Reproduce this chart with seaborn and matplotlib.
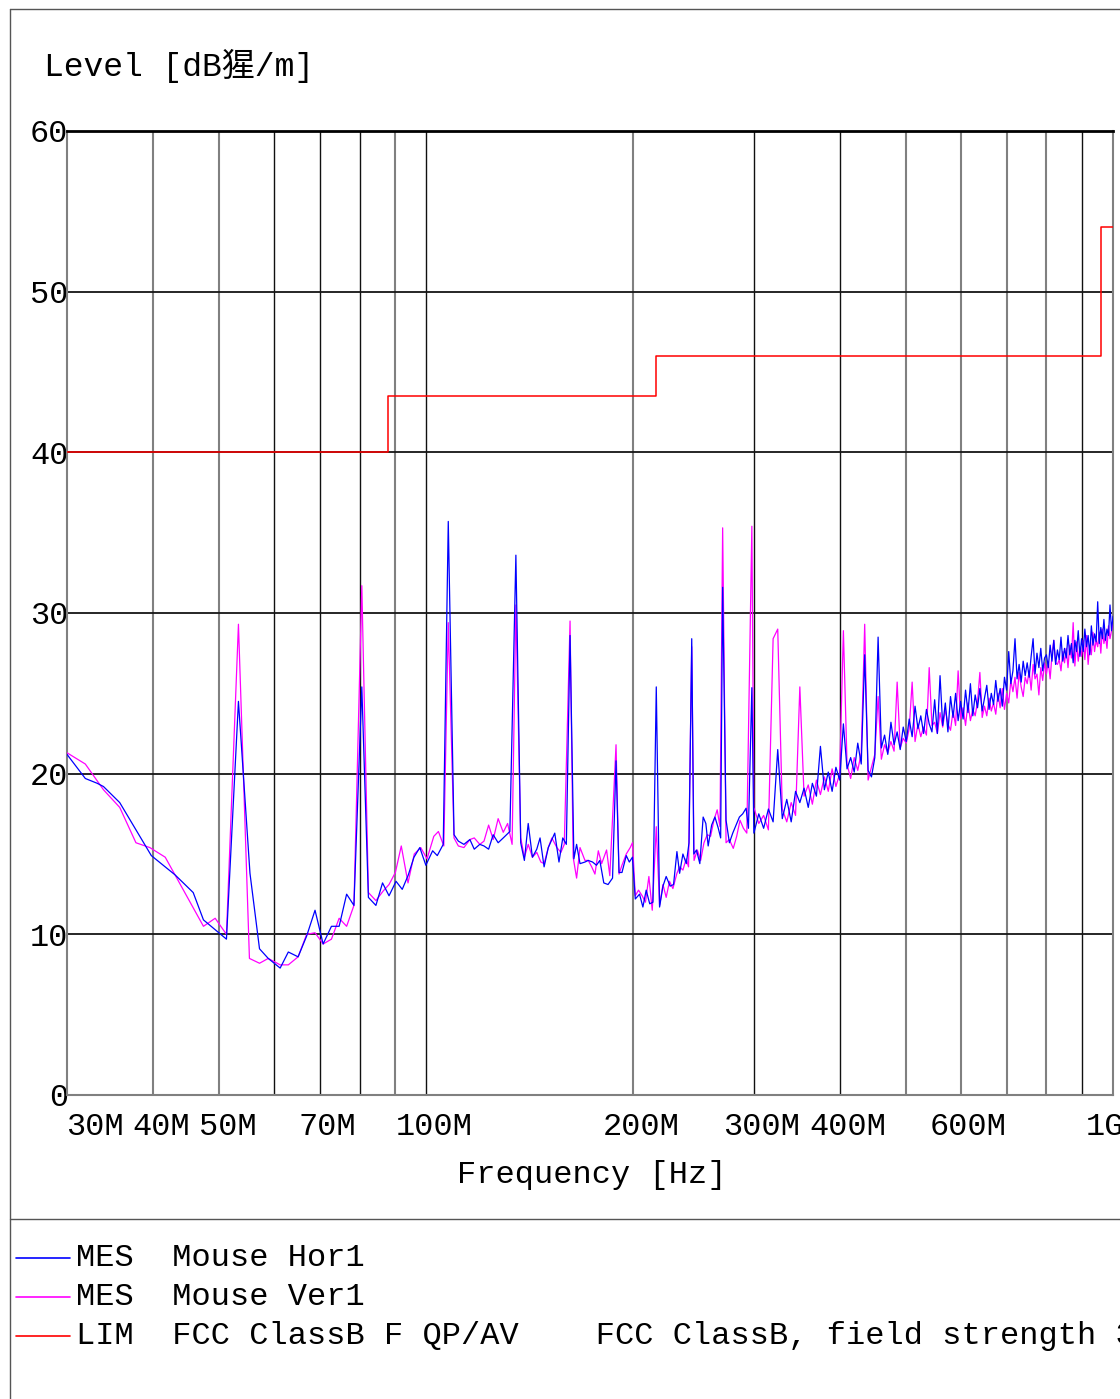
import numpy as np
import pandas as pd
import matplotlib
matplotlib.use("Agg")
import matplotlib.pyplot as plt
import matplotlib.transforms as mtrans
from matplotlib.lines import Line2D
import seaborn as sns

sns.set_theme(style="white")
plt.rcParams["font.family"] = ["Liberation Mono", "Noto Sans CJK SC", "DejaVu Sans"]

# ---------------- data ----------------
# low band (30-298 MHz): (frequency MHz, level dBuV/m)
blue_low = [
    (30.0, 21.2), (31.9, 19.7), (33.2, 19.4), (33.9, 19.2), (35.8, 18.2), (37.8, 16.5),
    (39.8, 14.9), (43.1, 13.7), (45.8, 12.6), (47.4, 10.9), (51.2, 9.7), (53.3, 24.5),
    (55.4, 13.8), (57.2, 9.1), (58.9, 8.5), (61.3, 7.9), (63.0, 8.9), (65.1, 8.6),
    (67.0, 9.9), (68.9, 11.5), (70.8, 9.4), (72.8, 10.5), (74.7, 10.5), (76.6, 12.5),
    (78.5, 11.8), (80.6, 25.4), (82.4, 12.3), (84.5, 11.8), (86.4, 13.2), (88.3, 12.4),
    (90.4, 13.3), (92.3, 12.8), (94.2, 13.7), (96.0, 14.8), (97.9, 15.4), (99.9, 14.3),
    (102.2, 15.2), (103.8, 14.9), (105.9, 15.6), (107.7, 35.7), (109.8, 16.2), (111.4, 15.8),
    (113.5, 15.6), (115.8, 15.9), (117.5, 15.3), (119.7, 15.6), (121.4, 15.5), (123.3, 15.3),
    (125.2, 16.2), (127.3, 15.7), (129.5, 16.0), (132.4, 16.4), (135.1, 33.6), (137.3, 15.7),
    (139.0, 14.6), (140.8, 16.9), (142.8, 14.8), (144.9, 15.3), (146.5, 16.0), (148.5, 14.2),
    (150.6, 15.4), (153.9, 16.3), (156.1, 14.5), (158.1, 16.0), (160.0, 15.6), (162.0, 28.6),
    (164.1, 14.7), (165.6, 15.6), (167.5, 14.4), (170.3, 14.5), (172.2, 14.6), (174.7, 14.5),
    (177.0, 14.3), (179.0, 14.6), (181.4, 13.2), (184.0, 13.1), (186.8, 13.5), (189.0, 20.8),
    (190.9, 13.85), (192.8, 13.85), (195.6, 14.9), (197.6, 14.5), (199.7, 14.8), (201.6, 12.2),
    (204.5, 12.5), (206.8, 11.7), (209.1, 12.75), (211.6, 11.9), (213.9, 12.0), (216.3, 25.4),
    (218.7, 11.7), (221.2, 13.0), (223.6, 13.6), (226.6, 13.0), (229.2, 13.1), (231.8, 15.15),
    (233.9, 13.8), (236.5, 15.0), (239.2, 14.4), (241.4, 15.7), (243.6, 28.4), (245.3, 15.0),
    (247.5, 15.25), (250.3, 14.4), (253.1, 17.3), (255.4, 16.9), (257.4, 15.5), (260.4, 16.8),
    (263.3, 17.3), (266.3, 16.6), (268.4, 16.0), (270.2, 31.6), (273.3, 17.1), (276.4, 15.7),
    (279.5, 16.3), (282.6, 16.8), (285.8, 17.3), (289.0, 17.5), (292.3, 17.85), (294.6, 16.6),
    (298.0, 25.35),
]

magenta_low = [
    (30.0, 21.3), (31.9, 20.6), (33.9, 19.0), (35.8, 17.9), (37.8, 15.7), (39.6, 15.4),
    (41.7, 14.8), (47.4, 10.5), (49.3, 11.0), (51.2, 10.0), (53.3, 29.3), (55.3, 8.5),
    (57.2, 8.2), (58.9, 8.5), (61.3, 8.1), (63.0, 8.1), (65.1, 8.6), (67.0, 10.0),
    (68.9, 10.1), (70.8, 9.4), (72.8, 9.7), (74.7, 11.0), (76.6, 10.5), (78.5, 11.8),
    (80.6, 31.7), (82.4, 12.6), (84.5, 12.1), (86.6, 12.7), (88.3, 13.1), (90.2, 13.85),
    (92.0, 15.5), (94.1, 13.2), (96.1, 15.0), (98.2, 15.4), (100.3, 14.7), (102.6, 16.1),
    (104.2, 16.4), (106.1, 15.5), (107.7, 29.4), (109.8, 16.0), (111.4, 15.5), (113.5, 15.4),
    (115.8, 15.9), (117.5, 16.0), (119.7, 15.6), (121.4, 15.8), (123.3, 16.8), (125.2, 15.9),
    (127.3, 17.2), (129.5, 16.35), (131.4, 16.9), (133.4, 15.6), (135.1, 30.5), (137.3, 16.0),
    (139.0, 14.8), (140.8, 15.6), (142.8, 14.8), (144.9, 15.1), (146.9, 14.5), (148.5, 14.4),
    (150.6, 15.4), (152.4, 16.0), (155.0, 15.4), (157.1, 15.1), (158.9, 15.6), (162.0, 29.5),
    (163.7, 14.8), (165.6, 13.5), (167.5, 15.4), (170.3, 14.6), (172.2, 14.6), (174.2, 14.2),
    (176.1, 13.75), (178.1, 15.2), (180.1, 14.4), (183.1, 15.25), (185.1, 13.65), (189.0, 21.8),
    (190.9, 13.75), (192.8, 14.3), (195.6, 15.0), (198.2, 15.4), (199.7, 15.7), (201.6, 12.4),
    (203.8, 12.75), (206.3, 12.4), (208.6, 12.0), (211.0, 13.6), (213.4, 11.5), (216.3, 16.7),
    (218.7, 11.8), (221.2, 13.1), (223.6, 12.3), (226.1, 13.3), (228.7, 12.85), (231.8, 13.8),
    (233.9, 14.2), (236.5, 14.0), (239.1, 14.7), (241.0, 14.2), (243.6, 27.9), (245.5, 14.6),
    (248.2, 15.25), (251.0, 14.6), (253.8, 15.7), (256.6, 16.2), (259.5, 16.1), (262.4, 17.1),
    (265.3, 17.75), (267.8, 16.7), (270.2, 35.3), (273.3, 15.7), (276.3, 15.9), (280.0, 15.35),
    (283.2, 16.1), (286.4, 17.1), (289.7, 16.6), (293.0, 16.3), (298.0, 35.4),
]

# high band sweep: 300 .. 1000 MHz, 5 MHz step
hf_freq = np.arange(300, 1001, 5)
blue_hf = [
    16.3, 17.5, 16.6, 17.8, 17.0, 21.5, 17.2, 18.4, 17.0, 18.9,
    18.2, 19.1, 17.9, 19.4, 18.6, 21.7, 19.0, 20.1, 18.9, 20.4,
    19.6, 23.1, 20.3, 21.0, 20.1, 21.9, 20.6, 27.4, 20.2, 19.8,
    21.0, 28.5, 21.6, 22.4, 21.2, 23.2, 21.8, 22.6, 21.5, 22.9,
    22.0, 23.4, 22.3, 24.2, 22.8, 23.6, 22.5, 24.0, 23.1, 22.6,
    24.6, 22.5, 26.1, 23.0, 24.4, 22.6, 24.8, 23.5, 25.0, 23.3,
    24.5, 23.4, 25.2, 23.8, 25.6, 23.6, 24.9, 24.1, 25.3, 23.9,
    24.7, 25.5, 24.0, 25.0, 24.3, 25.8, 24.5, 25.3, 24.2, 26.0,
    25.2, 27.6, 25.6, 26.4, 28.4, 25.9, 26.8, 25.7, 27.0, 26.1,
    26.9, 26.0, 27.3, 28.4, 26.2, 27.5, 26.6, 27.8, 26.4, 27.2,
    27.4, 26.6, 28.0, 27.0, 28.3, 26.8, 27.7, 27.1, 28.5, 27.0,
    27.8, 27.2, 28.6, 27.4, 28.1, 26.9, 28.3, 27.6, 28.9, 27.3,
    28.4, 27.6, 29.0, 27.9, 28.6, 27.4, 29.2, 28.0, 28.7, 28.2,
    30.7, 28.1, 29.1, 28.4, 29.6, 28.3, 29.0, 28.6, 30.5, 28.9,
    29.8,
]
magenta_hf = [
    17.9, 16.9, 17.4, 16.5, 28.4, 29.0, 17.8, 17.0, 18.2, 17.4,
    25.4, 18.6, 19.3, 18.1, 19.6, 18.7, 19.8, 18.9, 20.3, 19.2,
    20.0, 28.9, 20.6, 19.7, 21.0, 20.2, 21.3, 29.3, 19.6, 20.4,
    21.2, 24.8, 20.9, 21.8, 21.3, 22.0, 21.4, 25.7, 21.6, 22.2,
    21.9, 22.8, 25.7, 22.0, 23.1, 22.3, 22.9, 22.4, 26.6, 23.0,
    23.2, 22.5, 23.8, 22.9, 24.0, 23.1, 22.7, 23.9, 23.0, 26.4,
    23.4, 24.1, 23.0, 24.4, 23.3, 24.0, 23.6, 24.5, 26.3, 23.5,
    24.2, 23.6, 24.7, 23.9, 24.4, 23.7, 25.0, 24.1, 25.3, 24.0,
    25.0, 24.4, 25.8, 25.1, 26.0, 24.7, 26.3, 25.4, 24.8, 26.0,
    25.6, 26.4, 25.2, 26.8, 25.9, 26.2, 24.9, 26.6, 25.8, 26.9,
    26.2, 27.0, 25.9, 27.4, 28.3, 26.9, 26.8, 27.1, 26.4, 27.6,
    26.9, 27.8, 26.6, 28.0, 27.2, 29.4, 26.7, 28.2, 27.0, 27.9,
    27.3, 28.3, 27.1, 28.6, 26.8, 28.0, 27.4, 28.8, 27.6, 28.3,
    27.9, 28.8, 27.5, 29.0, 28.1, 28.6, 27.8, 29.2, 28.4, 28.9,
    29.3,
]

# FCC Class B limit (QP), 3 m
limit_freq = [30, 88, 88, 216, 216, 960, 960, 1000]
limit_level = [40, 40, 43.5, 43.5, 46, 46, 54, 54]

ytick_values = [0, 10, 20, 30, 40, 50, 60]
xtick_freqs = [30, 40, 50, 70, 100, 200, 300, 400, 600, 1000]
xtick_labels = ["30M", "40M", "50M", "70M", "100M", "200M", "300M", "400M", "600M", "1G"]
grid_freqs = [40, 50, 60, 70, 80, 90, 100, 200, 300, 400, 500, 600, 700, 800, 900]
legend_entries = [
    ("MES  Mouse Hor1", "#0000ff"),
    ("MES  Mouse Ver1", "#ff00ff"),
    ("LIM  FCC ClassB F QP/AV    FCC ClassB, field strength 3m", "#ff0000"),
]


def series_frame(low, hf_vals):
    f = [p[0] for p in low] + list(hf_freq)
    v = [p[1] for p in low] + list(hf_vals)
    return pd.DataFrame({"freq": f, "level": v})


df_blue = series_frame(blue_low, blue_hf)
df_mag = series_frame(magenta_low, magenta_hf)
df_lim = pd.DataFrame({"freq": limit_freq, "level": limit_level})

# ---------------- figure ----------------
W, H = 1120, 1399
fig = plt.figure(figsize=(W / 100, H / 100), dpi=100)
fig.patch.set_facecolor("white")
L, R, T, B = 67, 1113, 131, 1095
ax = fig.add_axes([L / W, 1 - B / H, (R - L) / W, (B - T) / H])
ax.set_facecolor("white")
ax.set_xscale("log")
ax.set_xlim(30, 1000)
ax.set_ylim(0, 60)

FS = 23

# grid
gray_set = {40, 50, 90, 200, 500, 600, 700, 800}
for f in grid_freqs:
    if f in gray_set:
        ax.axvline(f, color="#808080", lw=1.5, zorder=1)
    else:
        ax.axvline(f, color="#101010", lw=1.0, zorder=1)
for y in ytick_values[1:-1]:
    ax.axhline(y, color="#151515", lw=1.3, zorder=1)

# data
sns.lineplot(data=df_mag, x="freq", y="level", color="#ff00ff", lw=0.9,
             sort=False, estimator=None, ax=ax, legend=False, zorder=3)
sns.lineplot(data=df_blue, x="freq", y="level", color="#0000ff", lw=0.9,
             sort=False, estimator=None, ax=ax, legend=False, zorder=4)
sns.lineplot(data=df_lim, x="freq", y="level", color="#ff0000", lw=1.1,
             sort=False, estimator=None, ax=ax, legend=False, zorder=5)

ax.set_xlabel("")
ax.set_ylabel("")

# spines
for s in ["left", "bottom", "right"]:
    ax.spines[s].set_visible(True)
    ax.spines[s].set_color("#808080")
    ax.spines[s].set_linewidth(1.5)
ax.spines["top"].set_visible(True)
ax.spines["top"].set_color("black")
ax.spines["top"].set_linewidth(2.0)

# ticks
ax.xaxis.set_major_locator(matplotlib.ticker.NullLocator())
ax.xaxis.set_minor_locator(matplotlib.ticker.NullLocator())
ax.set_yticks(ytick_values)
ax.set_yticklabels([str(v) for v in ytick_values])
ax.tick_params(axis="y", length=0, pad=-1, labelsize=FS, labelcolor="black")

base = mtrans.blended_transform_factory(ax.transData, ax.transAxes)
y_lab = -(1127 - B) / (B - T)
for f, lab in zip(xtick_freqs, xtick_labels):
    if lab == "30M":
        ha, dx = "left", -1
    elif lab == "1G":
        ha, dx = "center", -8
    else:
        ha, dx = "center", 8
    tr = base + mtrans.ScaledTranslation(dx / 100, 0, fig.dpi_scale_trans)
    ax.text(f, y_lab, lab, transform=tr, ha=ha, va="center", fontsize=FS,
            color="black", clip_on=False)


def fx(x):
    return x / W


def fy(y):
    return 1 - y / H


fig.text(fx(592), fy(1175), "Frequency [Hz]", ha="center", va="center",
         fontsize=FS, color="black")
fig.text(fx(44), fy(66), "Level [dB猩/m]", ha="left", va="center",
         fontsize=23.8, color="black")

# outer frame and divider
frame_c = "#555555"
fig.add_artist(Line2D([fx(10), fx(1120)], [fy(9), fy(9)], color=frame_c, lw=1.0))
fig.add_artist(Line2D([fx(10), fx(10)], [fy(9), fy(1399)], color=frame_c, lw=1.0))
fig.add_artist(Line2D([fx(10), fx(1120)], [fy(1219), fy(1219)], color=frame_c, lw=1.0))

# legend block
leg_y = [1258, 1297, 1336]
for (txt, col), y in zip(legend_entries, leg_y):
    fig.add_artist(Line2D([fx(16), fx(70)], [fy(y), fy(y)], color=col, lw=1.2))
    fig.text(fx(76), fy(y), txt, ha="left", va="center", fontsize=FS, color="black")

fig.savefig("out.png", dpi=100, facecolor="white")
